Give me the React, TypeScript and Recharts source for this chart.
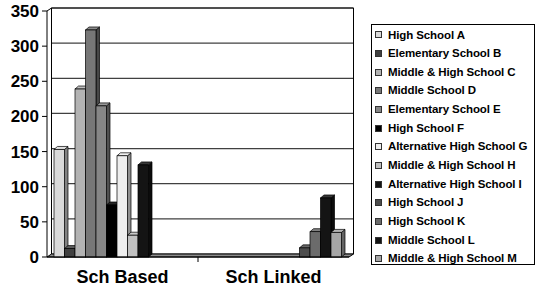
import React from 'react';
import { BarChart, Bar, XAxis, YAxis, CartesianGrid, ReferenceArea } from 'recharts';

const categories = ['Sch Based', 'Sch Linked'];
const schools = [
  'High School A',
  'Elementary School B',
  'Middle & High School C',
  'Middle School D',
  'Elementary School E',
  'High School F',
  'Alternative High School G',
  'Middle & High School H',
  'Alternative High School I',
  'High School J',
  'High School K',
  'Middle School L',
  'Middle & High School M',
];
const schBased = [153, 12, 239, 323, 215, 74, 144, 31, 131, 0, 0, 0, 0];
const schLinked = [0, 0, 0, 0, 0, 0, 0, 0, 0, 13, 36, 84, 35];
const colors = [
  '#d9d9d9', '#404040', '#b3b3b3', '#777777', '#868686', '#000000', '#eeeeee',
  '#c0c0c0', '#141414', '#4d4d4d', '#6b6b6b', '#141414', '#a6a6a6',
];
const yTicks = [0, 50, 100, 150, 200, 250, 300, 350];

const seriesValues = [schBased, schLinked];
const data = categories.map((cat, ci) => {
  const row: Record<string, any> = { cat };
  schools.forEach((_, si) => {
    row['s' + si] = seriesValues[ci][si];
  });
  return row;
});

const FONT = '"Liberation Sans", Arial, sans-serif';

function shade(hex: string, f: number) {
  const n = parseInt(hex.slice(1), 16);
  const r = (n >> 16) & 255, g = (n >> 8) & 255, b = n & 255;
  const m = (c: number) => Math.max(0, Math.min(255, Math.round(f >= 1 ? c + (255 - c) * (f - 1) : c * f)));
  return `rgb(${m(r)},${m(g)},${m(b)})`;
}

const Bar3D = (props: any) => {
  const { x, y, width, height, fill } = props;
  if (!height || height <= 0) return <g />;
  const dx = 3.5, dy = 3;
  return (
    <g>
      <polygon
        points={`${x + width},${y} ${x + width + dx},${y - dy} ${x + width + dx},${y + height - dy} ${x + width},${y + height}`}
        fill={shade(fill, 0.6)} stroke="#000" strokeWidth={0.7}
      />
      <polygon
        points={`${x},${y} ${x + dx},${y - dy} ${x + width + dx},${y - dy} ${x + width},${y}`}
        fill={shade(fill, 1.15)} stroke="#000" strokeWidth={0.7}
      />
      <rect x={x} y={y} width={width} height={height} fill={fill} stroke="#000" strokeWidth={0.7} />
    </g>
  );
};

const Walls = (props: any) => {
  const { x, y, width, height } = props;
  const dx = 4.5, dy = 3;
  const b = y + height;
  return (
    <g>
      <polyline
        points={`${x + dx},${b - dy} ${x + dx},${y - dy} ${x + width + dx},${y - dy} ${x + width + dx},${b - dy}`}
        fill="none" stroke="#000" strokeWidth={1}
      />
      <line x1={x} y1={y} x2={x + dx} y2={y - dy} stroke="#000" strokeWidth={1} />
      <polygon
        points={`${x},${b} ${x + dx},${b - dy} ${x + width + dx},${b - dy} ${x + width},${b}`}
        fill="#8c8c8c" stroke="#000" strokeWidth={1}
      />
    </g>
  );
};

const GridLine = (p: any) => {
  const dx = 4.5, dy = 3;
  return <line key={p.key} x1={p.x1 + dx} x2={p.x2 + dx} y1={p.y1 - dy} y2={p.y2 - dy} stroke="#404040" strokeWidth={1.2} />;
};

const XTick = (props: any) => {
  const { x, y, payload, index } = props;
  const half = payload && payload.offset ? payload.offset : 75.5;
  return (
    <g>
      {index === 0 && <line x1={x + half} x2={x + half} y1={y} y2={y + 5} stroke="#000" />}
      <text x={x} y={y + 26} textAnchor="middle" fontFamily={FONT} fontWeight="bold" fontSize={18} fill="#000">
        {payload.value}
      </text>
    </g>
  );
};

const LegendBox = () => (
  <div
    style={{
      position: 'absolute',
      left: 371,
      top: 24,
      boxSizing: 'border-box',
      width: 164,
      height: 241,
      border: '1px solid #000',
      background: '#fff',
      paddingTop: 0.5,
      paddingLeft: 3,
      fontFamily: FONT,
      fontWeight: 'bold',
      fontSize: 11.5,
      letterSpacing: -0.1,
      color: '#000',
    }}
  >
    {schools.map((s, i) => (
      <div key={s} style={{ height: 18.67, lineHeight: '18.67px', display: 'flex', alignItems: 'center', whiteSpace: 'nowrap' }}>
        <span
          style={{
            display: 'inline-block',
            boxSizing: 'border-box',
            width: 7,
            height: 7,
            background: colors[i],
            border: '1px solid #333',
            marginRight: 6,
            flexShrink: 0,
          }}
        />
        <span>{s}</span>
      </div>
    ))}
  </div>
);

export default function App() {
  return (
    <div style={{ position: 'absolute', left: 0, top: 0, width: 536, height: 290, background: '#fff' }}>
      <BarChart
        width={536}
        height={290}
        data={data}
        margin={{ top: 11, right: 187, bottom: 0, left: 0 }}
        barSize={10.5}
        barGap={0}
      >
        <ReferenceArea y1={0} y2={350} shape={<Walls />} ifOverflow="visible" />
        <CartesianGrid vertical={false} horizontal={GridLine as any} />
        <XAxis
          dataKey="cat"
          height={33}
          tickSize={0}
          tickMargin={0}
          tickLine={false}
          axisLine={{ stroke: '#000' }}
          tick={<XTick />}
        />
        <YAxis
          width={47}
          domain={[0, 350]}
          ticks={yTicks}
          interval={0}
          tickSize={5}
          tickMargin={3}
          axisLine={{ stroke: '#000' }}
          tickLine={{ stroke: '#000' }}
          tick={{ fontFamily: FONT, fontWeight: 'bold', fontSize: 17, fill: '#000' }}
        />
        {schools.map((s, i) => (
          <Bar key={s} dataKey={'s' + i} name={s} fill={colors[i]} shape={<Bar3D />} isAnimationActive={false} />
        ))}
      </BarChart>
      <LegendBox />
    </div>
  );
}
